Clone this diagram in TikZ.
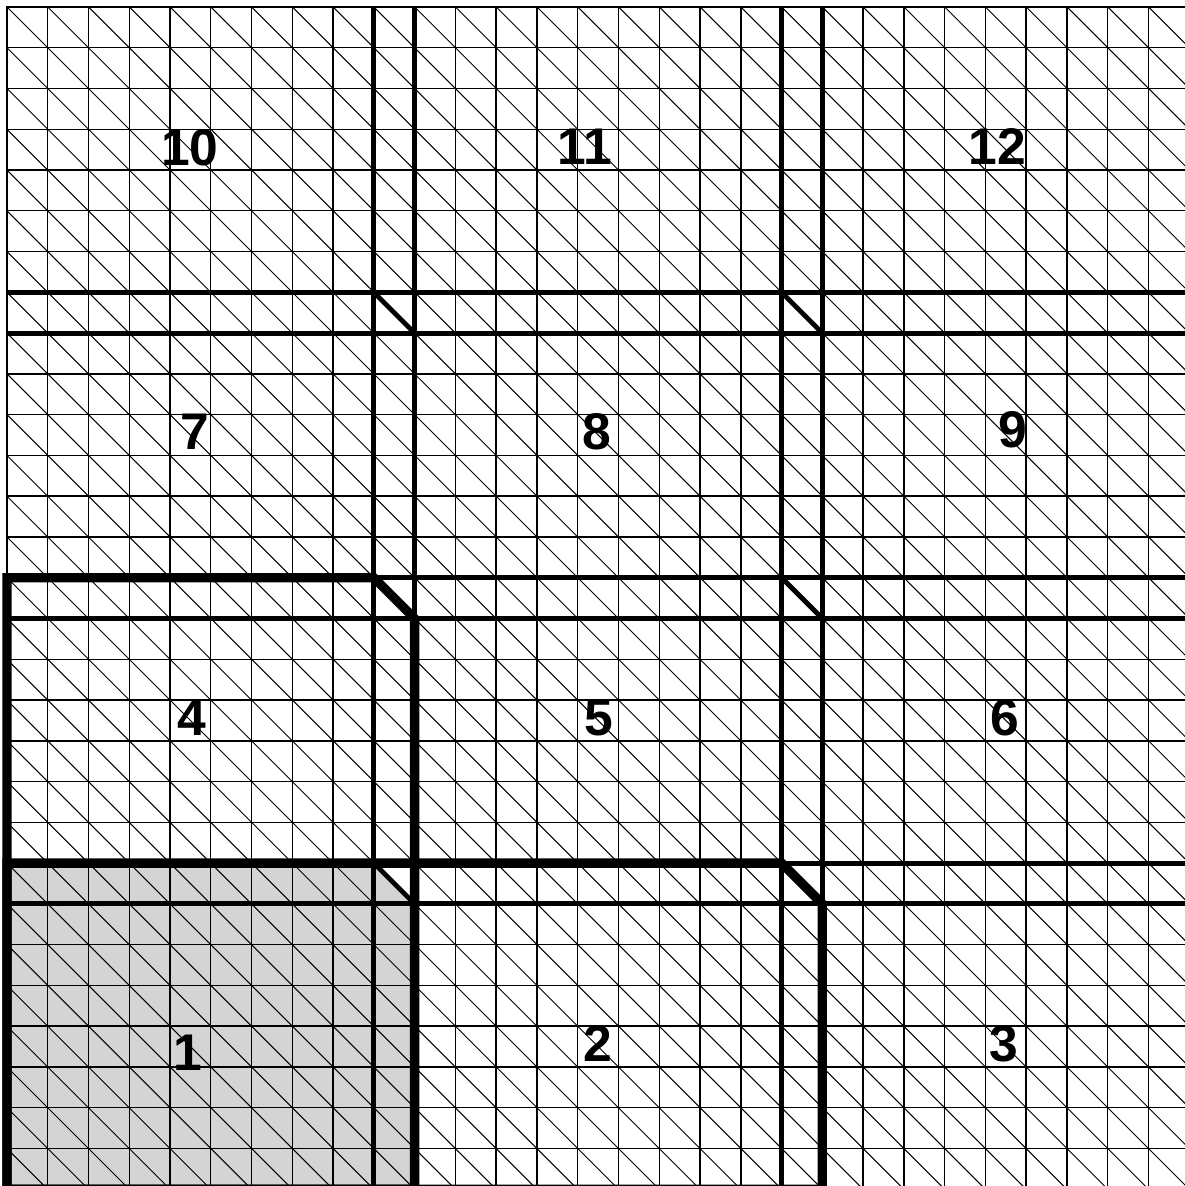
\documentclass[tikz,border=0pt]{standalone}
\usepackage{fontspec}
\setmainfont{Liberation Sans}
\usetikzlibrary{positioning}

\begin{document}
\begin{tikzpicture}[
    gridline/.style={line width=1pt},
    diagline/.style={line width=0.7pt},
    domline/.style={line width=3.4pt},
    outline/.style={line width=1.8pt},
    extline/.style={line width=6.5pt, line join=miter},
    every node/.style={font=\fontsize{36}{40}\selectfont\bfseries}
]
\useasboundingbox (-0.17,0.08) rectangle (28.88,29.17);
\fill[black!17] (0,0) -- (0,8) -- (9,8) -- (10,7) -- (10,0) -- cycle;
\foreach \i in {0,...,29} {
    \draw[gridline] (\i,0) -- (\i,29);
    \draw[gridline] (0,\i) -- (29,\i);
}
\foreach \i in {0,...,28} {
    \foreach \j in {0,...,28} {
        \draw[diagline] (\i,\j+1) -- (\i+1,\j);
    }
}
\draw[outline] (0,0) rectangle (29,29);
\foreach \x in {9,10,19,20}
    \draw[domline] (\x,0) -- (\x,29);
\foreach \y in {7,8,14,15,21,22}
    \draw[domline] (0,\y) -- (29,\y);
\foreach \x in {9,19} {
    \foreach \y in {8,15,22} {
        \draw[domline] (\x,\y) -- (\x+1,\y-1);
    }
}
\draw[extline] (0,0) -- (0,15) -- (9,15) -- (10,14) -- (10,0) -- cycle;
\draw[extline] (0,0) -- (0,8) -- (19,8) -- (20,7) -- (20,0) -- cycle;
\foreach \n/\x/\y in {1/4.44/3.36, 2/14.5/3.58, 3/24.46/3.58,
                      4/4.54/11.56, 5/14.52/11.56, 6/24.48/11.56,
                      7/4.61/18.57, 8/14.47/18.57, 9/24.68/18.62,
                      10/4.49/25.54, 11/14.18/25.57, 12/24.29/25.57}
    \node (d\n) at (\x,\y) {\n};
\end{tikzpicture}
\end{document}
